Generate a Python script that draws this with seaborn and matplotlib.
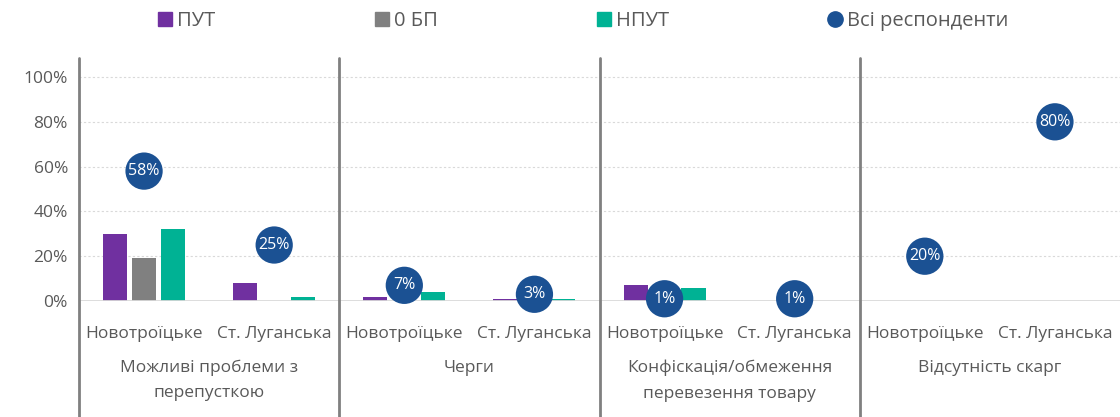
import numpy as np
import pandas as pd
import matplotlib
matplotlib.use("Agg")
import matplotlib.pyplot as plt
from matplotlib.lines import Line2D
import seaborn as sns

groups = ["Можливі проблеми з\nперепусткою", "Черги",
          "Конфіскація/обмеження\nперевезення товару", "Відсутність скарг"]
locations = ["Новотроїцьке", "Ст. Луганська"]
series = ["ПУТ", "0 БП", "НПУТ"]
put = [30, 8, 2, 1, 7, np.nan, np.nan, np.nan]
zero_bp = [19, np.nan, np.nan, np.nan, np.nan, np.nan, np.nan, np.nan]
nput = [32, 2, 4, 1, 6, np.nan, np.nan, np.nan]
all_resp = [58, 25, 7, 3, 1, 1, 20, 80]
dot_name = "Всі респонденти"

colors = {"ПУТ": "#7030A0", "0 БП": "#808080", "НПУТ": "#00B294"}
dot_color = "#1B5193"
txt_color = "#595959"

sns.set_theme(style="white")
plt.rcParams["font.family"] = ["Open Sans", "DejaVu Sans"]

keys = [f"{g}|{l}" for g in groups for l in locations]
rows = []
for s, vals in zip(series, [put, zero_bp, nput]):
    for k, v in zip(keys, vals):
        rows.append({"key": k, "series": s, "value": v / 100})
df = pd.DataFrame(rows)

fig = plt.figure(figsize=(11.2, 4.17), dpi=100)
W, H = 1120, 417
ax = fig.add_axes([79 / W, (H - 301) / H, (1120 - 79) / W, (301 - 58) / H])

sns.barplot(data=df, x="key", y="value", hue="series", order=keys, hue_order=series,
            palette=colors, saturation=1, width=0.667, gap=0.17, linewidth=0,
            ax=ax, legend=False)

xpos = np.arange(len(keys))
sns.scatterplot(x=xpos, y=np.array(all_resp) / 100, s=720, color=dot_color,
                edgecolor="none", ax=ax, zorder=5, legend=False)
ax.collections[-1].set_clip_on(False)
for x, v in zip(xpos, all_resp):
    ax.text(x, v / 100, f"{v}%", ha="center", va="center", color="white",
            fontsize=11.5, zorder=6)

ax.set_xlim(-0.5, len(keys) - 0.5)
ax.set_ylim(0, 1.085)
ax.set_yticks(np.arange(0, 1.01, 0.2))
ax.set_yticklabels([f"{int(round(t * 100))}%" for t in np.arange(0, 1.01, 0.2)],
                   fontsize=12.5, color=txt_color)
for t in np.arange(0.2, 1.01, 0.2):
    ax.axhline(t, color="#D9D9D9", lw=0.8, ls=(0, (2, 2)), zorder=0)
ax.axhline(0, color="#D9D9D9", lw=2, zorder=1)

ax.set_xticks(xpos)
ax.set_xticklabels([l for g in groups for l in locations], fontsize=12.5, color=txt_color)
ax.tick_params(axis="x", length=0, pad=18)
ax.tick_params(axis="y", length=0, pad=8)
ax.set_xlabel("")
ax.set_ylabel("")
for sp in ax.spines.values():
    sp.set_visible(False)

trans = ax.get_xaxis_transform()
bottom_ax = -(417 - 301) / (301 - 58)
for b in [-0.5, 1.5, 3.5, 5.5]:
    ax.plot([b, b], [bottom_ax, 1.0], color="#808080", lw=2, transform=trans,
            clip_on=False, zorder=2)

for i, g in enumerate(groups):
    ax.text(2 * i + 0.5, -(360 - 301) / (301 - 58), g, transform=trans, ha="center",
            va="top", fontsize=12.5, color=txt_color, linespacing=1.75)

handles = [Line2D([], [], marker="s", ls="", color=colors[s], markersize=10) for s in series]
handles.append(Line2D([], [], marker="o", ls="", color=dot_color, markersize=11))
fig.legend(handles, series + [dot_name], loc="center", bbox_to_anchor=(0.521, 1 - 21 / H),
           ncol=4, frameon=False, fontsize=14.5, labelcolor=txt_color,
           columnspacing=7.9, handlelength=0.7, handletextpad=0.25)

fig.savefig("out.png", dpi=100)
